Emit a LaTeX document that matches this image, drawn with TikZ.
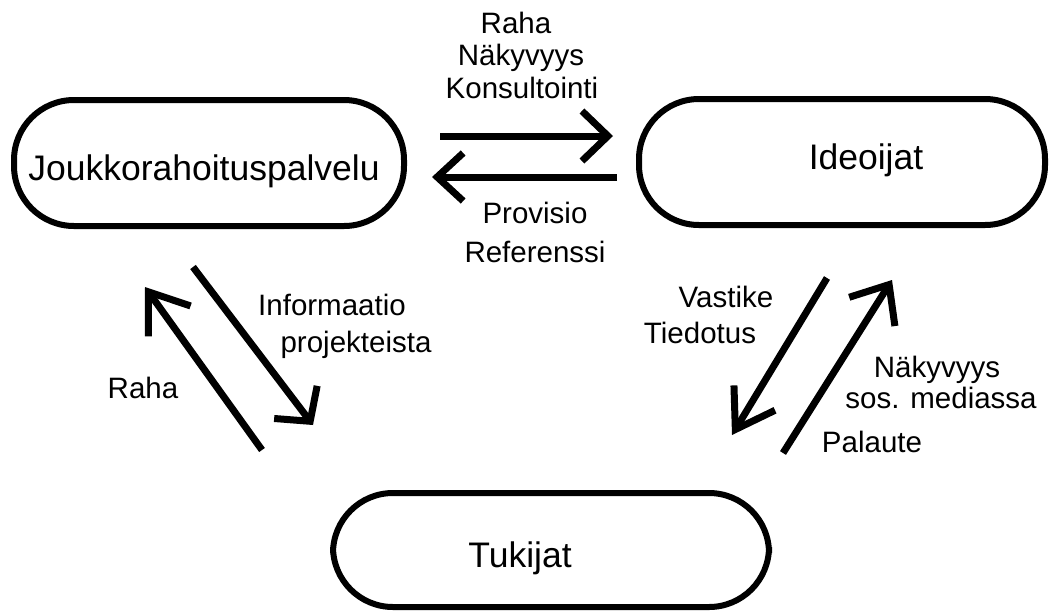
\documentclass[tikz,border=0pt]{standalone}
\usepackage{fontspec}
\setmainfont{Liberation Sans}
\usetikzlibrary{arrows.meta}
\tikzset{
  party/.style={draw=black, line width=6pt, rounded corners=60pt, inner sep=0pt},
  partytext/.style={anchor=base, inner sep=0pt, font=\fontsize{35.5}{42}\selectfont},
  flowtext/.style={anchor=base, inner sep=0pt, font=\fontsize{29.5}{34}\selectfont},
  flow/.style={line width=7pt, line cap=butt},
}
\begin{document}
\begin{tikzpicture}[x=1pt,y=-1pt]
\useasboundingbox (0,0) rectangle (1052,614);

% the three parties
\node[party, minimum width=390pt, minimum height=126pt] (jp) at (209,163) {};
\node[party, minimum width=406pt, minimum height=126pt] (id) at (842,162) {};
\node[party, minimum width=436pt, minimum height=114pt] (tu) at (551,550) {};
\node[partytext] (jpt) at (204,180) {Joukkorahoituspalvelu};
\node[partytext] (idt) at (866,169) {Ideoijat};
\node[partytext] (tut) at (520,567) {Tukijat};

% arrow end points
\coordinate (a1s) at (440,136); \coordinate (a1e) at (613,136);
\coordinate (a2s) at (617,177); \coordinate (a2e) at (432,177);
\coordinate (a3s) at (262,450); \coordinate (a3e) at (145,287);
\coordinate (a4s) at (193,267); \coordinate (a4e) at (313,425);
\coordinate (a5s) at (827,278); \coordinate (a5e) at (732,435);
\coordinate (a6s) at (783,453); \coordinate (a6e) at (892,280);

% flows between the parties
\draw[flow, -{Straight Barb[length=26pt,width=50pt,line width=7pt]}] (a1s) -- (a1e);
\draw[flow, -{Straight Barb[length=26pt,width=48pt,line width=7pt]}] (a2s) -- (a2e);
\draw[flow, -{Straight Barb[length=36pt,width=52pt,line width=7pt]}] (a3s) -- (a3e);
\draw[flow, -{Straight Barb[length=24pt,width=54pt,line width=7pt]}] (a4s) -- (a4e);
\draw[flow, -{Straight Barb[length=37pt,width=48pt,line width=7pt]}] (a5s) -- (a5e);
\draw[flow, -{Straight Barb[length=32pt,width=54pt,line width=7pt]}] (a6s) -- (a6e);

% flow labels
\node[flowtext] (l1) at (516,33) {Raha};
\node[flowtext] (l2) at (521,65) {Näkyvyys};
\node[flowtext] (l3) at (522,98) {Konsultointi};
\node[flowtext] (l4) at (535,223) {Provisio};
\node[flowtext] (l5) at (535,262) {Referenssi};
\node[flowtext] (l6) at (332,315) {Informaatio};
\node[flowtext] (l7) at (356,352) {projekteista};
\node[flowtext] (l8) at (143,398) {Raha};
\node[flowtext] (l9) at (726,307) {Vastike};
\node[flowtext] (l10) at (700,343) {Tiedotus};
\node[flowtext] (l11) at (937,377) {Näkyvyys};
\node[flowtext] (l12) at (941,408) {sos. mediassa};
\node[flowtext] (l13) at (872,452) {Palaute};
\end{tikzpicture}
\end{document}
